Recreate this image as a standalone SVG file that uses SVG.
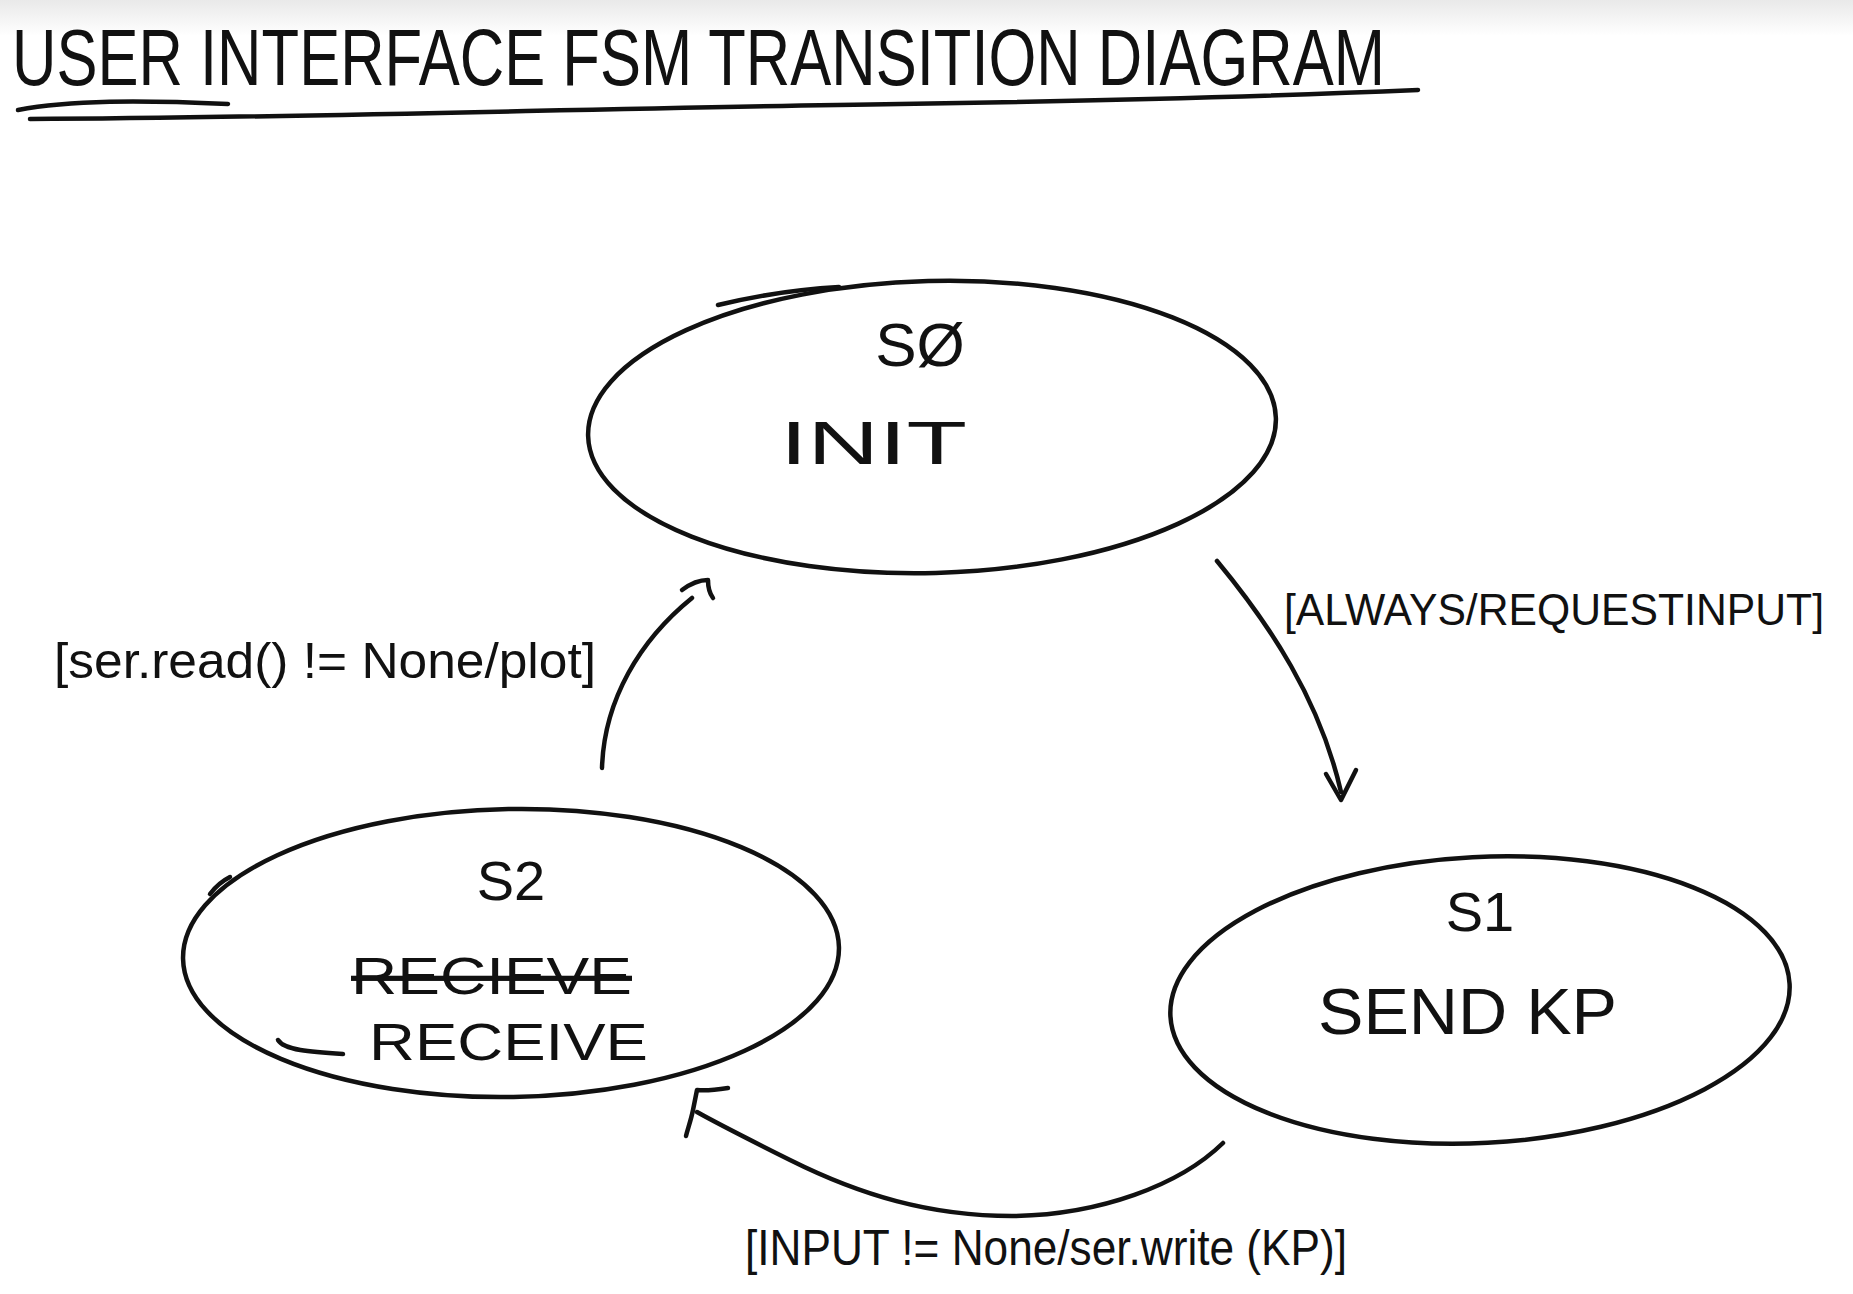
<svg xmlns="http://www.w3.org/2000/svg" width="1853" height="1294" viewBox="0 0 1853 1294">
<defs>
<linearGradient id="bg" x1="0" y1="0" x2="0" y2="1">
<stop offset="0" stop-color="#e9e9e9"/>
<stop offset="1" stop-color="#ffffff"/>
</linearGradient>
<style>
.ink{fill:none;stroke:#111;stroke-width:4.5;stroke-linecap:round;stroke-linejoin:round}
.t{font-family:"Liberation Sans","DejaVu Sans",sans-serif;fill:#111}
.lbl{font-size:50px}
.big{font-size:62px}
</style>
</defs>
<rect width="1853" height="1294" fill="#ffffff"/>
<rect width="1853" height="36" fill="url(#bg)"/>

<g id="title">
<text class="t" x="12" y="85" font-size="80" textLength="1373" lengthAdjust="spacingAndGlyphs">USER INTERFACE FSM TRANSITION DIAGRAM</text>
<path class="ink" d="M18,110 C70,100 140,100 228,104"/>
<path class="ink" d="M30,119 C300,118 600,108 900,104 C1150,100 1300,95 1418,90"/>
</g>

<g id="node-s0">
<ellipse class="ink" cx="932" cy="427" rx="344" ry="146" transform="rotate(-1.5 932 427)"/>
<path class="ink" d="M718,305 C760,295 800,289 839,287"/>
<text class="t big" x="920" y="366" text-anchor="middle">SØ</text>
<text class="t big" x="780" y="464" textLength="187" lengthAdjust="spacingAndGlyphs">INIT</text>
</g>

<g id="node-s1">
<ellipse class="ink" cx="1480" cy="1000" rx="310" ry="143" transform="rotate(-3 1480 1000)"/>
<text class="t" x="1480" y="931" font-size="56" text-anchor="middle">S1</text>
<text class="t" x="1318" y="1034" font-size="64" textLength="299" lengthAdjust="spacingAndGlyphs">SEND KP</text>
</g>

<g id="node-s2">
<ellipse class="ink" cx="511" cy="953" rx="328" ry="144" transform="rotate(-1 511 953)"/>
<path class="ink" d="M210,894 C216,886 222,881 230,877"/>
<path class="ink" d="M278,1040 C284,1050 310,1052 343,1054"/>
<text class="t" x="511" y="900" font-size="56" text-anchor="middle">S2</text>
<text class="t" x="351" y="994" font-size="52" textLength="281" lengthAdjust="spacingAndGlyphs" text-decoration="line-through">RECIEVE</text>
<text class="t" x="369" y="1060" font-size="52" textLength="279" lengthAdjust="spacingAndGlyphs">RECEIVE</text>
</g>

<g id="connectors">
<path class="ink" d="M1217,561 C1270,625 1320,700 1341,792"/>
<path class="ink" d="M1326,774 L1341,800 L1356,770"/>
<path class="ink" d="M1223,1143 C1180,1185 1100,1215 1012,1216 C930,1216 860,1195 790,1160 C750,1140 720,1125 697,1112"/>
<path class="ink" d="M728,1088 C715,1090 705,1091 697,1090 L693,1110 C691,1120 688,1128 686,1136"/>
<path class="ink" d="M602,768 C604,700 640,640 692,598"/>
<path class="ink" d="M682,590 C690,584 700,580 708,580 C708,588 710,594 713,598"/>
</g>

<g id="labels">
<text class="t" x="1284" y="625" font-size="44" textLength="540" lengthAdjust="spacingAndGlyphs">[ALWAYS/REQUESTINPUT]</text>
<text class="t lbl" x="54" y="678" textLength="542" lengthAdjust="spacingAndGlyphs">[ser.read() != None/plot]</text>
<text class="t lbl" x="745" y="1265" textLength="602" lengthAdjust="spacingAndGlyphs">[INPUT != None/ser.write (KP)]</text>
</g>
</svg>
